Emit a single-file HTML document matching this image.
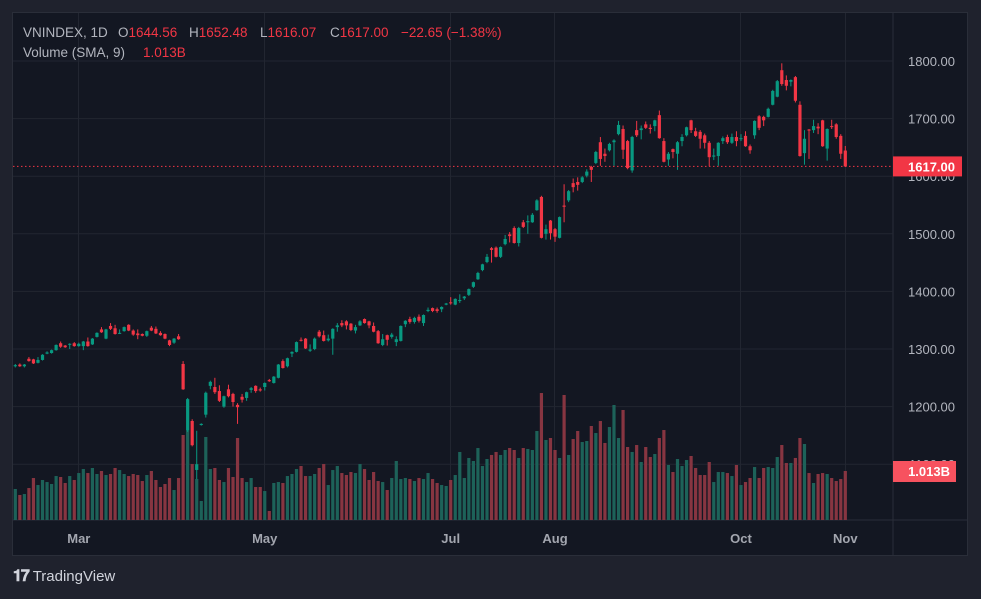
<!DOCTYPE html>
<html><head><meta charset="utf-8">
<style>
html,body{margin:0;padding:0;background:#1f222d;width:981px;height:599px;overflow:hidden;font-family:"Liberation Sans",sans-serif;}
#wrap{position:absolute;left:0;top:0;width:981px;height:599px;}
.lg{position:absolute;font-size:13.5px;color:#b2b5be;white-space:pre;}
.red{color:#f23645;}
.logo{position:absolute;left:13px;top:568px;font-size:15px;color:#d1d4dc;}
</style></head>
<body>
<div id="wrap">
<svg id="chart" width="981" height="599" style="position:absolute;left:0;top:0"></svg>
<div>
<span class="lg" style="left:23px;top:25px">VNINDEX, 1D</span>
<span class="lg" style="left:118px;top:25px">O<span class="red">1644.56</span></span>
<span class="lg" style="left:189px;top:25px">H<span class="red">1652.48</span></span>
<span class="lg" style="left:260px;top:25px">L<span class="red">1616.07</span></span>
<span class="lg" style="left:330px;top:25px">C<span class="red">1617.00</span></span>
<span class="lg red" style="left:401px;top:25px">−22.65 (−1.38%)</span>
</div>
<div>
<span class="lg" style="left:23px;top:45px">Volume (SMA, 9)</span>
<span class="lg red" style="left:143px;top:45px">1.013B</span>
</div>
<div class="logo"><b style="font-size:16px;letter-spacing:-1px">𝟏𝟕</b> TradingView</div>
</div>
<script>
const opens=[1270,1273,1270,1283,1282,1276,1281,1292,1293,1298,1310,1306,1308,1310,1305,1305,1313,1308,1321,1334,1318,1340,1336,1327,1331,1342,1332,1327,1326,1323,1337,1335,1328,1326,1315,1311,1322,
1274,1159,1175,1090,1168,1186,1236,1234,1227,1200,1230,1222,1203,1217,1215,1229,1236,1230,1234,1246,1241,1250,
1279,1270,1292,1295,1316,1318,1297,1300,1330,1324,1315,1318,1338,1345,1348,1344,1332,1341,1352,1348,1340,1331,1307,1324,1321,1312,1314,1343,1352,1347,1356,1345,1366,1371,1369,1369,1377,1381,1377,1384,1388,1394,1408,1421,1437,1451,1475,1476,1460,1482,1499,1510,1484,1520,1520,1520,1541,1564,1500,1523,1508,1493,1549,1558,1588,1590,
1590,1601,1616,1623,1659,1639,1645,1659,1673,1682,1661,1610,1680,1680,1690,1684,1687,1706,1661,1629,1647,1639,1661,1671,1697,1678,1677,1671,1658,1634,1635,1661,1668,1658,1668,1665,1670,1652,1671,1704,1703,1703,1724,1738,1784,1767,1764,1772,1724,1640,1681,1680,1686,1697,1648,1687,1690,1670,1644.56];
const closes=[1272,1270,1273,1279,1275,1281,1290,1294,1298,1307,1304,1303,1309,1305,1309,1313,1305,1318,1328,1329,1334,1335,1326,1328,1338,1332,1325,1324,1323,1331,1332,1327,1324,1318,1307,1318,1317,
1230,1213,1133,1100,1170,1224,1243,1225,1210,1218,1218,1208,1199,1212,1225,1232,1227,1228,1241,1244,1252,1273,
1267,1284,1295,1312,1315,1301,1299,1318,1322,1314,1318,1335,1341,1341,1341,1333,1338,1348,1345,1341,1330,1310,1317,1316,1325,1317,1340,1349,1347,1354,1349,1359,1368,1366,1366,1373,1379,1380,1387,1385,1391,1404,1416,1432,1447,1460,1472,1460,1477,1491,1496,1484,1510,1512,1522,1533,1558,1493,1508,1501,1495,1529,1547,1574,1581,1585,
1598,1608,1611,1642,1630,1635,1656,1662,1689,1646,1614,1668,1671,1683,1684,1682,1697,1666,1625,1639,1642,1659,1668,1685,1680,1670,1665,1658,1633,1636,1658,1666,1659,1668,1661,1666,1652,1645,1696,1684,1697,1717,1748,1765,1760,1757,1767,1731,1635,1665,1680,1687,1683,1652,1682,1686,1668,1639,1617];
const highs=[1274,1275,1274,1286,1283,1286,1291,1296,1299,1308,1313,1307,1310,1312,1311,1314,1320,1319,1329,1338,1335,1345,1342,1334,1339,1343,1334,1334,1327,1332,1340,1339,1331,1327,1316,1319,1326,
1279,1215,1178,1158,1171,1226,1245,1250,1237,1219,1238,1224,1206,1222,1226,1234,1237,1233,1242,1248,1253,1274,
1282,1285,1296,1313,1320,1319,1308,1320,1333,1332,1325,1336,1345,1350,1350,1345,1342,1350,1353,1349,1346,1333,1326,1325,1328,1322,1341,1350,1356,1356,1360,1360,1372,1372,1372,1374,1380,1390,1388,1395,1392,1405,1417,1434,1448,1465,1477,1478,1478,1498,1503,1513,1512,1524,1532,1536,1560,1566,1516,1524,1510,1530,1586,1576,1596,1598,
1600,1612,1618,1644,1668,1648,1658,1664,1696,1688,1663,1670,1696,1688,1695,1690,1698,1714,1666,1642,1648,1661,1673,1686,1698,1684,1680,1674,1661,1648,1659,1669,1672,1674,1678,1673,1678,1655,1697,1706,1705,1719,1750,1767,1796,1775,1768,1774,1730,1680,1682,1698,1692,1698,1683,1698,1692,1673,1652.48];
const lows=[1268,1269,1268,1278,1274,1275,1280,1291,1292,1297,1302,1302,1300,1304,1304,1298,1304,1307,1320,1328,1317,1333,1325,1326,1330,1331,1323,1317,1322,1321,1331,1326,1323,1317,1305,1309,1316,
1229,1156,1131,1074,1167,1181,1230,1222,1208,1198,1216,1200,1170,1207,1210,1224,1224,1226,1228,1243,1240,1249,
1266,1268,1286,1294,1313,1300,1295,1298,1320,1313,1313,1290,1330,1338,1334,1331,1327,1340,1344,1336,1329,1309,1305,1306,1318,1305,1313,1338,1344,1344,1346,1340,1364,1364,1363,1364,1376,1377,1376,1380,1385,1392,1406,1420,1435,1449,1450,1459,1458,1480,1485,1483,1478,1510,1500,1519,1540,1492,1490,1490,1486,1492,1520,1555,1572,1575,
1588,1598,1590,1621,1618,1625,1643,1618,1671,1630,1612,1606,1668,1664,1682,1674,1678,1665,1624,1618,1631,1611,1652,1669,1675,1668,1648,1648,1617,1628,1618,1656,1656,1656,1652,1661,1651,1639,1665,1680,1687,1702,1723,1737,1757,1749,1756,1728,1634,1620,1630,1675,1673,1651,1627,1682,1665,1630,1616.07];
const volumes=[641,517,537,661,868,723,827,785,744,909,889,765,909,827,971,1054,971,1075,951,1013,930,951,1075,1033,951,909,951,930,806,930,1013,827,682,744,868,620,868,
1757,1860,1157,847,393,1716,1054,1075,827,785,1075,889,1695,868,785,868,682,682,599,186,765,785,
765,909,951,1054,1116,909,909,951,1075,1157,723,1033,1116,971,930,992,971,1157,1054,827,992,806,785,620,868,1220,847,868,847,806,868,847,971,847,765,723,703,827,930,1406,868,1282,1220,1488,1116,1261,1344,1406,1344,1447,1488,1447,1282,1488,1468,1447,1840,2625,1654,1695,1447,1282,2584,1344,1674,1840,
1612,1633,1943,1798,2046,1592,1922,2377,1695,2274,1509,1406,1550,1199,1509,1302,1364,1695,1860,1137,992,1261,1116,1240,1323,1075,930,930,1199,785,992,992,971,909,1137,723,785,868,1095,868,1075,1095,1075,1302,1550,1178,1178,1282,1695,1571,971,765,951,971,951,868,806,847,1013];
const priceTicks=[1100,1200,1300,1400,1500,1600,1700,1800];
const monthLabels=["Mar","May","Jul","Aug","Oct","Nov"];
const monthIndex=[14,55,96,119,160,183];

const svg=document.getElementById('chart');
const NS='http://www.w3.org/2000/svg';
const X0=15.3, X1=845.3, PL=13, PR=893, PT=13, PB=520;
function xOf(i){return X0+i*(X1-X0)/(opens.length-1);}
function yP(p){return 61+(1800-p)*0.576;}
function yV(v){return PB-v/20.67;}
function mk(tag,attrs,parent){const e=document.createElementNS(NS,tag);for(const k in attrs)e.setAttribute(k,attrs[k]);(parent||svg).appendChild(e);return e;}

let r=mk('rect',{x:12.5,y:12.5,width:955,height:543,fill:'#131722',stroke:'#2a2e39'});


mk('line',{x1:PR,y1:PT,x2:PR,y2:555,stroke:'#2a2e39'});
mk('line',{x1:PL,y1:PB,x2:967,y2:PB,stroke:'#2a2e39'});
const grid=mk('g',{});


priceTicks.forEach(p=>{mk('line',{x1:PL,y1:yP(p),x2:PR,y2:yP(p),stroke:'#222631'},grid);});
monthIndex.forEach(i=>{const x=Math.round(xOf(i)-0.6)+0.5;mk('line',{x1:x,y1:PT,x2:x,y2:PB,stroke:'#222631'},grid);});

const vg=mk('g',{});


volumes.forEach((v,i)=>{
  const up=closes[i]>=opens[i];
  const b=mk('rect',{x:xOf(i)-1.6,y:yV(v),width:3.2,height:PB-yV(v),fill:up?'#1d6259':'#873541'},vg);
  
  
});

const cg=mk('g',{});


opens.forEach((o,i)=>{
  const c=closes[i], up=c>=o, col=up?'#089981':'#f23645', x=xOf(i);
  const g=mk('g',{},cg);
  
  
  mk('line',{x1:x,y1:yP(highs[i]),x2:x,y2:yP(lows[i]),stroke:col,'stroke-width':1},g);
  const top=yP(Math.max(o,c)), bot=yP(Math.min(o,c));
  mk('rect',{x:x-1.6,y:top,width:3.2,height:Math.max(1,bot-top),fill:col},g);
});

const last=closes[closes.length-1];
const pl=mk('line',{x1:PL,y1:yP(last),x2:PR,y2:yP(last),stroke:'#f23645','stroke-dasharray':'1.5 2.5'});



const ax=mk('g',{'font-family':'Liberation Sans, sans-serif','font-size':'13',fill:'#b2b5be'});


priceTicks.forEach(p=>{const t=mk('text',{x:955,y:yP(p)+5,'text-anchor':'end'},ax);t.textContent=p.toFixed(2);});
const tx=mk('g',{'font-family':'Liberation Sans, sans-serif','font-size':'13','font-weight':'bold',fill:'#a3a6af','text-anchor':'middle'});


monthLabels.forEach((m,k)=>{const t=mk('text',{x:xOf(monthIndex[k]),y:543},tx);t.textContent=m;});

const lb=mk('g',{});


mk('rect',{x:893,y:yP(last)-10,width:69,height:20,fill:'#f23645'},lb);
let t=mk('text',{x:955,y:yP(last)+5,'text-anchor':'end','font-family':'Liberation Sans, sans-serif','font-size':'13','font-weight':'bold',fill:'#fff'},lb);t.textContent=last.toFixed(2);
const vb=mk('g',{});


const lv=volumes[volumes.length-1];
mk('rect',{x:893,y:yV(lv)-10,width:63,height:21,fill:'#f7525f'},vb);
t=mk('text',{x:950,y:yV(lv)+5,'text-anchor':'end','font-family':'Liberation Sans, sans-serif','font-size':'13','font-weight':'bold',fill:'#fff'},vb);t.textContent=(lv/1000).toFixed(3)+'B';
</script>
</body></html>
